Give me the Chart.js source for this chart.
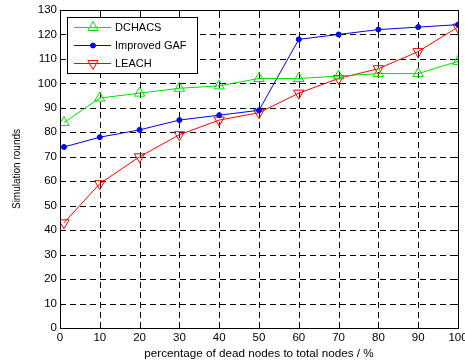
<!DOCTYPE html>
<html>
<head>
<meta charset="utf-8">
<script src="https://cdn.jsdelivr.net/npm/chart.js@4"></script>
<style>
  html, body { margin: 0; padding: 0; background: #fff; }
  #wrap { width: 465px; height: 361px; position: relative; }
</style>
</head>
<body>
<div id="wrap"><canvas id="chart" width="465" height="361"></canvas></div>
<script>
// dados
const xValues = [1, 10, 20, 30, 40, 50, 60, 70, 80, 90, 100];
const dchacs = [84, 94, 96, 98, 99, 102, 102, 103, 104, 104, 109];
const improvedGaf = [74, 78, 81, 85, 87, 89, 118, 120, 122, 123, 124];
const leach = [43, 59, 70, 79, 85, 88, 96, 102, 106, 113, 123];
const seriesNames = ['DCHACS', 'Improved GAF', 'LEACH'];
const xTicks = [0, 10, 20, 30, 40, 50, 60, 70, 80, 90, 100];
const yTicks = [0, 10, 20, 30, 40, 50, 60, 70, 80, 90, 100, 110, 120, 130];

const FONT = 'Liberation Sans, Arial, sans-serif';

function toPoints(arr) {
    return arr.map((v, i) => ({ x: xValues[i], y: v }));
}

// grade tracejada no estilo MATLAB (desenhada antes das linhas)
const gridPlugin = {
    id: 'dashGrid',
    beforeDatasetsDraw(chart) {
        const ctx = chart.ctx;
        const a = chart.chartArea;
        const xs = chart.scales.x, ys = chart.scales.y;
        ctx.save();
        ctx.strokeStyle = '#000';
        ctx.lineWidth = 1;
        ctx.setLineDash([6, 4]);
        xTicks.forEach(v => {
            const px = Math.round(xs.getPixelForValue(v)) + 0.5;
            ctx.beginPath();
            ctx.moveTo(px, a.bottom);
            ctx.lineTo(px, a.top);
            ctx.stroke();
        });
        yTicks.forEach(v => {
            const py = Math.round(ys.getPixelForValue(v)) + 0.5;
            ctx.beginPath();
            ctx.moveTo(a.left, py);
            ctx.lineTo(a.right, py);
            ctx.stroke();
        });
        // pequenas marcas internas
        ctx.setLineDash([]);
        xTicks.forEach(v => {
            const px = Math.round(xs.getPixelForValue(v)) + 0.5;
            ctx.beginPath();
            ctx.moveTo(px, a.bottom); ctx.lineTo(px, a.bottom - 4);
            ctx.moveTo(px, a.top); ctx.lineTo(px, a.top + 4);
            ctx.stroke();
        });
        yTicks.forEach(v => {
            const py = Math.round(ys.getPixelForValue(v)) + 0.5;
            ctx.beginPath();
            ctx.moveTo(a.left, py); ctx.lineTo(a.left + 4, py);
            ctx.moveTo(a.right, py); ctx.lineTo(a.right - 4, py);
            ctx.stroke();
        });
        ctx.restore();
    }
};

// caixa e legenda
const framePlugin = {
    id: 'frame',
    afterDraw(chart) {
        const ctx = chart.ctx;
        const a = chart.chartArea;
        ctx.save();
        ctx.strokeStyle = '#000';
        ctx.lineWidth = 1;
        const l = Math.round(a.left) + 0.5, t = Math.round(a.top) + 0.5;
        const r = Math.round(a.right) + 0.5, b = Math.round(a.bottom) + 0.5;
        ctx.strokeRect(l, t, r - l, b - t);

        // legenda
        const bx = 67.5, by = 17.5, bw = 130, bh = 56;
        ctx.fillStyle = '#fff';
        ctx.fillRect(bx, by, bw, bh);
        ctx.strokeRect(bx, by, bw, bh);
        ctx.font = '11px ' + FONT;
        ctx.textBaseline = 'middle';
        chart.data.datasets.forEach((ds, i) => {
            const y = 27.5 + i * 18;
            ctx.strokeStyle = ds.borderColor;
            ctx.lineWidth = 1;
            ctx.beginPath();
            ctx.moveTo(74, y);
            ctx.lineTo(111, y);
            ctx.stroke();
            ctx.fillStyle = ds.pointBackgroundColor;
            Chart.helpers.drawPoint(ctx, {
                pointStyle: ds.pointStyle,
                rotation: ds.pointRotation || 0,
                radius: ds.pointRadius,
                borderWidth: 1
            }, 93, y);
            ctx.fillStyle = '#000';
            ctx.fillText(ds.label, 115, y + 0.5);
        });
        ctx.restore();
    }
};

new Chart(document.getElementById('chart'), {
    type: 'line',
    data: {
        datasets: [
            {
                label: seriesNames[0],
                data: toPoints(dchacs),
                borderColor: '#00e000',
                backgroundColor: 'transparent',
                pointBackgroundColor: 'rgba(0,0,0,0)',
                pointBorderColor: '#00e000',
                pointStyle: 'triangle',
                pointRadius: 6,
                borderWidth: 1,
                pointBorderWidth: 1
            },
            {
                label: seriesNames[1],
                data: toPoints(improvedGaf),
                borderColor: '#0000ff',
                backgroundColor: 'transparent',
                pointBackgroundColor: '#0000ff',
                pointBorderColor: '#0000ff',
                pointStyle: 'circle',
                pointRadius: 2.5,
                borderWidth: 1,
                pointBorderWidth: 1
            },
            {
                label: seriesNames[2],
                data: toPoints(leach),
                borderColor: '#ff0000',
                backgroundColor: 'transparent',
                pointBackgroundColor: 'rgba(0,0,0,0)',
                pointBorderColor: '#ff0000',
                pointStyle: 'triangle',
                pointRotation: 180,
                pointRadius: 6,
                borderWidth: 1,
                pointBorderWidth: 1
            }
        ]
    },
    options: {
        responsive: false,
        animation: false,
        layout: { padding: { top: 10, right: 4, left: 0, bottom: 0 } },
        plugins: {
            legend: { display: false },
            tooltip: { enabled: false }
        },
        scales: {
            x: {
                type: 'linear',
                min: 0,
                max: 100,
                afterBuildTicks: (s) => { s.ticks = xTicks.map(v => ({ value: v })); },
                afterFit: (s) => { s.height = 33; s.paddingRight = 0; s.paddingLeft = 0; },
                grid: { display: false, drawTicks: false },
                border: { display: false },
                ticks: { color: '#000', font: { family: FONT, size: 11.5 }, padding: 3, maxRotation: 0 },
                title: {
                    display: true,
                    text: 'percentage of dead nodes to total nodes / %',
                    color: '#000',
                    font: { family: FONT, size: 11.7 },
                    padding: { top: 0, bottom: 0 }
                }
            },
            y: {
                min: 0,
                max: 130,
                afterBuildTicks: (s) => { s.ticks = yTicks.map(v => ({ value: v })); },
                afterFit: (s) => { s.width = 60; },
                grid: { display: false, drawTicks: false },
                border: { display: false },
                ticks: { color: '#000', font: { family: FONT, size: 11.5 }, padding: 3 },
                title: {
                    display: true,
                    text: 'Simulation rounds',
                    color: '#000',
                    font: { family: FONT, size: 10 },
                    padding: { top: 11, bottom: 0 }
                }
            }
        }
    },
    plugins: [gridPlugin, framePlugin]
});
</script>
</body>
</html>
